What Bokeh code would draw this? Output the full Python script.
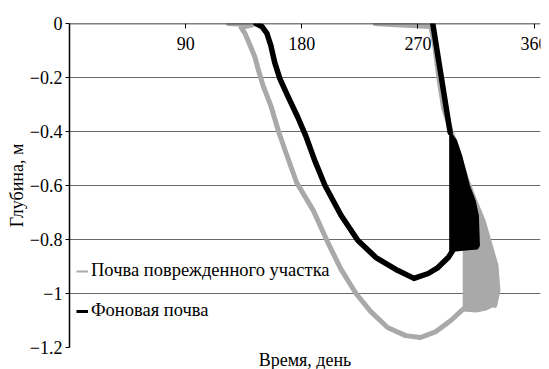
from bokeh.plotting import figure
from bokeh.models import FixedTicker, Range1d, Legend, LegendItem, Title
from bokeh.embed import file_html
from bokeh.resources import INLINE

FONT = "Liberation Serif"

# ---- data (day of year, depth in m) ----
x_ticks = [90, 180, 270, 360]
y_ticks = [0, -0.2, -0.4, -0.6, -0.8, -1.0, -1.2]
y_tick_labels = ["0", "\u22120.2", "\u22120.4", "\u22120.6", "\u22120.8", "\u22121", "\u22121.2"]

# damaged site soil (grey): freezing front
grey_freeze_day = [123, 142, 133, 136, 139, 143.5, 146.5, 150, 156, 162, 168.5, 176, 189, 199.5,
                   210, 222, 233.5, 246.5, 260.5, 272, 284, 295.5, 305.5]
grey_freeze_depth = [0, -0.005, -0.015, -0.037, -0.07, -0.122, -0.174, -0.23, -0.304, -0.4, -0.489,
                     -0.589, -0.693, -0.804, -0.907, -1.0, -1.067, -1.126, -1.156, -1.163, -1.141,
                     -1.1, -1.056]
# grey: thawing front
grey_thaw_day = [237, 249, 264.5, 280, 283, 286.5, 290, 295.5, 302, 308, 314, 320.5, 326, 330.5, 332, 329.5]
grey_thaw_depth = [0, -0.004, -0.007, -0.011, -0.08, -0.21, -0.315, -0.396, -0.489, -0.581, -0.656,
                   -0.73, -0.822, -0.896, -0.989, -1.044]
# grey: oscillation band
grey_band_day = [305.5, 305.5, 303.5, 295.5, 302, 308, 314, 320.5, 326, 330.5, 332, 329.5, 323, 315, 305.5]
grey_band_depth = [-1.056, -0.84, -0.507, -0.396, -0.489, -0.581, -0.656, -0.73, -0.822, -0.896,
                   -0.989, -1.044, -1.059, -1.067, -1.063]

# background soil (black): freezing front
black_freeze_day = [144.5, 149, 153, 156, 159, 163, 169, 177, 183, 190, 198, 210.5, 223.5, 237.5,
                    254.5, 267, 278, 285.5, 293.5, 297]
black_freeze_depth = [0, -0.011, -0.037, -0.081, -0.144, -0.204, -0.267, -0.348, -0.415, -0.507, -0.6,
                      -0.711, -0.804, -0.867, -0.915, -0.944, -0.926, -0.904, -0.867, -0.841]
# black: thawing front
black_thaw_day = [281.5, 295]
black_thaw_depth = [0, -0.404]
# black: oscillation band
black_band_day = [295, 299.5, 303.5, 306.5, 309.5, 314, 316.5, 317.3, 316, 307, 299.5, 295, 295]
black_band_depth = [-0.404, -0.433, -0.489, -0.544, -0.6, -0.656, -0.711, -0.822, -0.833, -0.837,
                    -0.841, -0.841, -0.404]

GREY = "#a9a9a9"
BLACK = "#000000"

p = figure(width=549, height=369, output_backend="svg", toolbar_location=None,
           x_range=Range1d(0, 365), y_range=Range1d(-1.2, 0),
           min_border_left=69, min_border_top=23, min_border_right=9, min_border_bottom=0)
p.outline_line_color = None
p.background_fill_color = "white"
p.border_fill_color = "white"

# x axis drawn along depth 0 (top), labels below the line
xa = p.xaxis[0]
xa.fixed_location = 0
xa.ticker = FixedTicker(ticks=x_ticks)
xa.minor_tick_line_color = None
xa.major_tick_in = 0
xa.major_tick_out = 5
xa.major_label_standoff = 8
xa.axis_line_width = 1.5
xa.axis_line_color = "black"
xa.major_tick_line_color = "black"
xa.major_label_text_font = FONT
xa.major_label_text_font_size = "18px"
xa.major_label_text_color = "black"

ya = p.yaxis[0]
ya.ticker = FixedTicker(ticks=y_ticks)
ya.major_label_overrides = {t: l for t, l in zip(y_ticks, y_tick_labels)}
ya.minor_tick_line_color = None
ya.major_tick_in = 0
ya.major_tick_out = 4
ya.major_label_standoff = 3
ya.axis_line_width = 1.5
ya.axis_line_color = "black"
ya.major_tick_line_color = "black"
ya.major_label_text_font = FONT
ya.major_label_text_font_size = "18px"
ya.major_label_text_color = "black"
ya.axis_label = "Глубина, м"
ya.axis_label_text_font = FONT
ya.axis_label_text_font_size = "18px"
ya.axis_label_text_font_style = "normal"
ya.axis_label_text_color = "black"
ya.axis_label_standoff = 0

p.xgrid.visible = False
p.ygrid.ticker = FixedTicker(ticks=y_ticks)
p.ygrid.grid_line_color = "#6a6a6a"
p.ygrid.grid_line_width = 1

# grey series
p.patch(grey_band_day, grey_band_depth, fill_color=GREY, line_color=GREY, line_width=2)
p.line(grey_freeze_day, grey_freeze_depth, line_color=GREY, line_width=5, line_join="round", line_cap="round")
p.line(grey_thaw_day, grey_thaw_depth, line_color=GREY, line_width=5, line_join="round", line_cap="round")

# black series
p.patch(black_band_day, black_band_depth, fill_color=BLACK, line_color=BLACK, line_width=2)
p.line(black_freeze_day, black_freeze_depth, line_color=BLACK, line_width=5.5, line_join="round", line_cap="round")
p.line(black_thaw_day, black_thaw_depth, line_color=BLACK, line_width=5.5, line_join="round", line_cap="round")

# legend proxies (hidden renderers, thinner strokes for the legend swatches)
g_leg = p.line(grey_freeze_day, grey_freeze_depth, line_color=GREY, line_width=2, visible=False)
b_leg = p.line(black_freeze_day, black_freeze_depth, line_color=BLACK, line_width=3, visible=False)
legend = Legend(items=[LegendItem(label="Почва поврежденного участка", renderers=[g_leg]),
                       LegendItem(label="Фоновая почва", renderers=[b_leg])],
                location=(7, 26), orientation="vertical")
legend.background_fill_alpha = 0
legend.border_line_alpha = 0
legend.inactive_fill_alpha = 0
legend.margin = 0
legend.padding = 0
legend.glyph_width = 12
legend.glyph_height = 20
legend.label_height = 20
legend.spacing = 19
legend.label_standoff = 3
legend.label_text_font = FONT
legend.label_text_font_size = "18.5px"
legend.label_text_color = "black"
p.add_layout(legend)

xtitle = Title(text="Время, день", align="center", offset=5, standoff=0,
               text_font=FONT, text_font_size="18px", text_font_style="normal",
               text_color="black")
p.add_layout(xtitle, "below")

open("out.html", "w").write(file_html(p, INLINE))
